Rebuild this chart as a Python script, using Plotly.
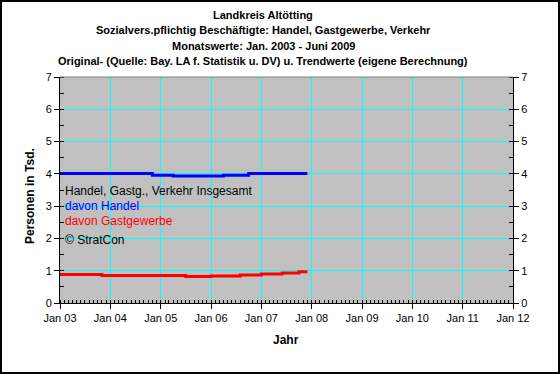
import plotly.graph_objects as go

# Data (step values, thousands of persons)
handel_dates = ["2003-01-01", "2004-11-01", "2005-04-01", "2006-04-01", "2006-10-01", "2007-12-01"]
handel_vals = [4.01, 3.96, 3.93, 3.96, 4.01, 4.01]

gast_dates = ["2003-01-01", "2003-11-01", "2005-07-01", "2006-01-01", "2006-08-01",
              "2007-01-01", "2007-06-01", "2007-10-01", "2007-12-01"]
gast_vals = [0.88, 0.85, 0.82, 0.84, 0.87, 0.90, 0.93, 0.97, 0.97]

title_lines = [
    "Landkreis Altötting",
    "Sozialvers.pflichtig Beschäftigte: Handel, Gastgewerbe, Verkehr",
    "Monatswerte: Jan. 2003 - Juni 2009",
    "Original- (Quelle: Bay. LA f. Statistik u. DV) u. Trendwerte (eigene Berechnung)",
]
legend_items = [
    ("Handel, Gastg., Verkehr Insgesamt", "#000000"),
    ("davon Handel", "#0000FF"),
    ("davon Gastgewerbe", "#FF0000"),
    ("© StratCon", "#000000"),
]

FONT = "Liberation Sans, Arial, sans-serif"
W, H = 560, 374
L, R, T, B = 60, 47, 77, 71
PW, PH = W - L - R, H - T - B


def px_x(p):
    return (p - L) / PW


def px_y(p):
    return (H - B - p) / PH


fig = go.Figure()
fig.add_trace(go.Scatter(x=handel_dates, y=handel_vals, mode="lines", line_shape="hv",
                         line=dict(color="#0000FF", width=3), showlegend=False))
fig.add_trace(go.Scatter(x=gast_dates, y=gast_vals, mode="lines", line_shape="hv",
                         line=dict(color="#FF0000", width=3), showlegend=False))
fig.add_trace(go.Scatter(x=[handel_dates[0]], y=[0], yaxis="y2", mode="markers",
                         marker=dict(opacity=0), showlegend=False, hoverinfo="skip"))

annotations = []
for i, t in enumerate(title_lines):
    annotations.append(dict(text="<b>%s</b>" % t, x=px_x(263), y=px_y(15 + i * 15.3),
                            xref="paper", yref="paper", showarrow=False,
                            xanchor="center", yanchor="middle",
                            font=dict(family=FONT, size=11, color="#000000")))
for (t, c), yy in zip(legend_items, [191, 206, 221, 240]):
    annotations.append(dict(text=t, x=px_x(63), y=px_y(yy),
                            xref="paper", yref="paper", showarrow=False,
                            xanchor="left", yanchor="middle",
                            font=dict(family=FONT, size=12, color=c)))
annotations.append(dict(text="<b>Personen in Tsd.</b>", x=px_x(30), y=px_y(196),
                        xref="paper", yref="paper", showarrow=False, textangle=-90,
                        xanchor="center", yanchor="middle",
                        font=dict(family=FONT, size=12, color="#000000")))
annotations.append(dict(text="<b>Jahr</b>", x=px_x(286), y=px_y(340),
                        xref="paper", yref="paper", showarrow=False,
                        xanchor="center", yanchor="middle",
                        font=dict(family=FONT, size=12, color="#000000")))

shapes = [
    dict(type="rect", xref="paper", yref="paper",
         x0=px_x(1), x1=px_x(559), y0=px_y(373), y1=px_y(1),
         line=dict(color="#000000", width=2), fillcolor="rgba(0,0,0,0)", layer="above"),
    dict(type="line", xref="paper", yref="paper", x0=0, x1=1, y0=1, y1=1,
         line=dict(color="#808080", width=1), layer="above"),
]

axis_font = dict(family=FONT, size=11, color="#000000")
yaxis_common = dict(range=[0, 7], dtick=1, tick0=0, showline=True, linecolor="#000000",
                    linewidth=1, ticks="outside", ticklen=5, tickcolor="#000000",
                    tickfont=axis_font, zeroline=False, fixedrange=True,
                    minor=dict(dtick=0.5, ticks="inside", ticklen=4, tickcolor="#000000",
                               showgrid=False))

fig.update_layout(
    width=W, height=H,
    margin=dict(l=L, r=R, t=T, b=B),
    paper_bgcolor="#FFFFFF", plot_bgcolor="#C0C0C0",
    font=dict(family=FONT, size=11, color="#000000"),
    showlegend=False,
    xaxis=dict(type="date", range=["2003-01-01", "2012-01-01"], dtick="M12",
               tick0="2003-01-01", tickformat="%b %y", showgrid=True,
               gridcolor="#00FFFF", gridwidth=1, showline=True, linecolor="#000000",
               ticks="outside", ticklen=5, tickcolor="#000000", tickfont=axis_font,
               zeroline=False,
               minor=dict(dtick="M1", ticks="inside", ticklen=3, tickcolor="#000000",
                          showgrid=False)),
    yaxis=dict(showgrid=True, gridcolor="#00FFFF", gridwidth=1, side="left",
               **yaxis_common),
    yaxis2=dict(overlaying="y", side="right", showgrid=False, **yaxis_common),
    annotations=annotations,
    shapes=shapes,
)

fig.write_html("out.html")
